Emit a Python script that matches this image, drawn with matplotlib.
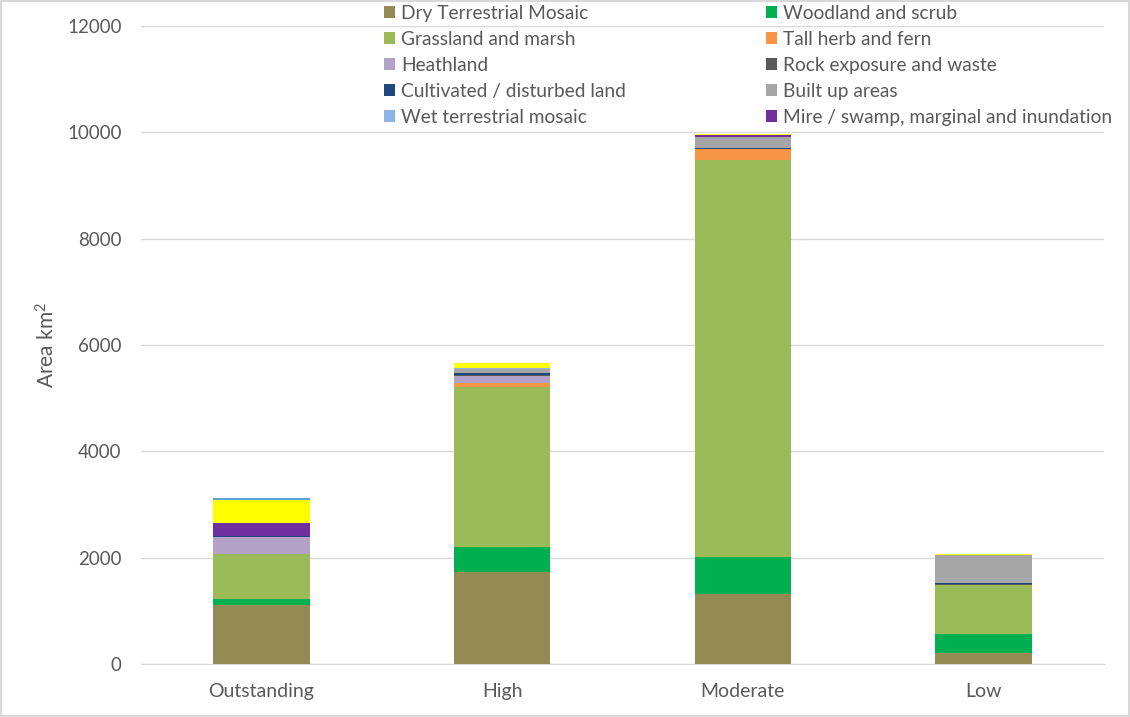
import matplotlib
matplotlib.use("Agg")
import matplotlib.pyplot as plt
from matplotlib.patches import Patch
import numpy as np

categories = ["Outstanding", "High", "Moderate", "Low"]

dry_terrestrial = [1115, 1730, 1311, 207]
woodland_scrub = [107, 465, 696, 363]
grassland_marsh = [852, 3015, 7473, 916]
tall_herb_fern = [0, 80, 200, 0]
heathland = [320, 135, 0, 0]
rock_exposure = [0, 20, 0, 15]
cultivated = [20, 25, 20, 28]
built_up = [0, 70, 213, 515]
wet_terrestrial = [0, 20, 0, 0]
mire_swamp = [233, 10, 30, 0]
unlabelled_yellow = [438, 95, 25, 20]
unlabelled_blue = [37, 0, 0, 0]

series = [
    ("Dry Terrestrial Mosaic", dry_terrestrial, "#948A54"),
    ("Woodland and scrub", woodland_scrub, "#00B050"),
    ("Grassland and marsh", grassland_marsh, "#9BBB59"),
    ("Tall herb and fern", tall_herb_fern, "#F79646"),
    ("Heathland", heathland, "#B3A2C7"),
    ("Rock exposure and waste", rock_exposure, "#595959"),
    ("Cultivated / disturbed land", cultivated, "#1F497D"),
    ("Built up areas", built_up, "#A6A6A6"),
    ("Wet terrestrial mosaic", wet_terrestrial, "#8DB4E2"),
    ("Mire / swamp, marginal and inundation", mire_swamp, "#7030A0"),
    (None, unlabelled_yellow, "#FFFF00"),
    (None, unlabelled_blue, "#5BA3D9"),
]

plt.rcParams['font.family'] = ['Lato', 'DejaVu Sans']
plt.rcParams['mathtext.fontset'] = 'custom'
plt.rcParams['mathtext.rm'] = 'Lato'

fig = plt.figure(figsize=(11.30, 7.17), dpi=100)
fig.patch.set_edgecolor('#D9D9D9')
fig.patch.set_linewidth(1.5)
ax = fig.add_axes([0.1248, 0.0739, 0.852, 0.8898])

x = np.arange(len(categories))
bottom = np.zeros(len(categories))
handles = []
for name, vals, col in series:
    v = np.array(vals, dtype=float)
    ax.bar(x, v, 0.4, bottom=bottom, color=col, zorder=3)
    bottom += v
    if name:
        handles.append(Patch(facecolor=col, label=name))

# row-first order for a 2-column legend
ordered = handles[0::2] + handles[1::2]

ax.set_xlim(-0.5, 3.5)
ax.set_ylim(0, 12000)
ax.set_yticks(np.arange(0, 12001, 2000))
ax.set_xticks(x)
ax.set_xticklabels(categories)
ax.grid(axis='y', color='#D9D9D9', linewidth=1, zorder=0)
ax.set_axisbelow(True)
for s in ['top', 'right', 'left']:
    ax.spines[s].set_visible(False)
ax.spines['bottom'].set_color('#D9D9D9')
ax.tick_params(axis='y', length=0, labelsize=13.5, colors='#595959', pad=14)
ax.tick_params(axis='x', length=0, labelsize=14, colors='#595959', pad=14)
ax.set_ylabel(r"Area km$\mathregular{^2}$", fontsize=15, color='#595959', labelpad=6)

leg = ax.legend(handles=ordered, ncol=2, loc='upper left',
                bbox_to_anchor=(0.234, 1.06), frameon=False,
                fontsize=13.8, labelcolor='#595959',
                handlelength=0.6, handleheight=0.6, handletextpad=0.3,
                columnspacing=7.3, labelspacing=0.47)

fig.savefig("out.png", dpi=100)
